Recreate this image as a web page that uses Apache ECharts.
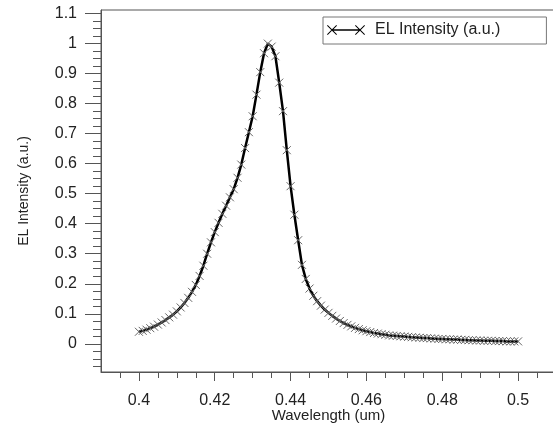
<!DOCTYPE html>
<html>
<head>
<meta charset="utf-8">
<script src="https://cdn.jsdelivr.net/npm/echarts@6/dist/echarts.min.js"></script>
<style>
html,body{margin:0;padding:0;background:#fff;}
#chart{width:553px;height:423px;}
</style>
</head>
<body>
<div id="chart"></div>
<script>
const seriesName = 'EL Intensity (a.u.)';
const xAxisName = 'Wavelength (um)';
const yAxisName = 'EL Intensity (a.u.)';

const wavelength = [
0.400,0.401,0.402,0.403,0.404,0.405,0.406,0.407,0.408,0.409,
0.410,0.411,0.412,0.413,0.414,0.415,0.416,0.417,0.418,0.419,
0.420,0.421,0.422,0.423,0.424,0.425,0.426,0.427,0.428,0.429,
0.430,0.431,0.432,0.433,0.434,0.435,0.436,0.437,0.438,0.439,
0.440,0.441,0.442,0.443,0.444,0.445,0.446,0.447,0.448,0.449,
0.450,0.451,0.452,0.453,0.454,0.455,0.456,0.457,0.458,0.459,
0.460,0.461,0.462,0.463,0.464,0.465,0.466,0.467,0.468,0.469,
0.470,0.471,0.472,0.473,0.474,0.475,0.476,0.477,0.478,0.479,
0.480,0.481,0.482,0.483,0.484,0.485,0.486,0.487,0.488,0.489,
0.490,0.491,0.492,0.493,0.494,0.495,0.496,0.497,0.498,0.499,
0.500];

const intensity = [
0.040,0.043,0.047,0.052,0.057,0.064,0.071,0.079,0.088,0.097,
0.108,0.121,0.136,0.153,0.173,0.196,0.226,0.260,0.300,0.338,
0.372,0.403,0.433,0.460,0.488,0.515,0.553,0.597,0.652,0.705,
0.758,0.830,0.905,0.968,1.000,0.990,0.958,0.870,0.775,0.645,
0.525,0.430,0.345,0.263,0.216,0.184,0.160,0.142,0.127,0.114,
0.103,0.093,0.084,0.076,0.069,0.063,0.058,0.053,0.049,0.045,
0.042,0.039,0.036,0.034,0.032,0.030,0.028,0.027,0.026,0.025,
0.024,0.023,0.022,0.021,0.020,0.019,0.019,0.018,0.017,0.016,
0.016,0.015,0.015,0.014,0.014,0.013,0.013,0.012,0.012,0.011,
0.011,0.010,0.010,0.010,0.009,0.009,0.009,0.008,0.008,0.008,
0.008];

const xMajorTicks = [0.4, 0.42, 0.44, 0.46, 0.48, 0.5];
const xMinorTicks = [0.395,0.4,0.405,0.41,0.415,0.42,0.425,0.43,0.435,0.44,0.445,0.45,0.455,0.46,0.465,0.47,0.475,0.48,0.485,0.49,0.495,0.5,0.505];
const yMajorTicks = [0, 0.1, 0.2, 0.3, 0.4, 0.5, 0.6, 0.7, 0.8, 0.9, 1, 1.1];
const yMinorTicks = [-0.075,-0.05,-0.025,0,0.025,0.05,0.075,0.1,0.125,0.15,0.175,0.2,0.225,0.25,0.275,0.3,0.325,0.35,0.375,0.4,0.425,0.45,0.475,0.5,0.525,0.55,0.575,0.6,0.625,0.65,0.675,0.7,0.725,0.75,0.775,0.8,0.825,0.85,0.875,0.9,0.925,0.95,0.975,1,1.025,1.05,1.075,1.1];

const xMin = 0.39, xMax = 0.51;
const yMin = -0.094, yMax = 1.112;

const pairs = wavelength.map((w, i) => [w, intensity[i]]);

const FONT = '"Liberation Sans", Arial, sans-serif';
const AX = '#555';
const TXT = '#222';

const legendIcon = 'path://M0,0.7L0.7,0L10,9.3L9.3,10Z M9.3,0L10,0.7L0.7,10L0,9.3Z M5,4.2L33,4.2L33,5.8L5,5.8Z M28,0.7L28.7,0L38,9.3L37.3,10Z M37.3,0L38,0.7L28.7,10L28,9.3Z M43,5L43,5.01L42.99,5Z';

const chart = echarts.init(document.getElementById('chart'), null, {renderer: 'canvas'});
chart.setOption({
  animation: false,
  backgroundColor: '#fff',
  textStyle: {fontFamily: FONT},
  grid: [
    {left: 101, top: 10, width: 455, height: 362, show: true, borderColor: AX, borderWidth: 1, backgroundColor: 'transparent', containLabel: false, outerBoundsMode: 'none'},
    {left: 101, top: 10, width: 455, height: 362, show: false, containLabel: false, outerBoundsMode: 'none'}
  ],
  legend: {
    left: 323, top: 17,
    padding: [5, 46, 6, 4],
    borderColor: '#777', borderWidth: 1, borderRadius: 0,
    backgroundColor: '#fff',
    itemWidth: 43, itemHeight: 10,
    textStyle: {fontSize: 16, color: TXT, fontFamily: FONT},
    data: [{name: seriesName, icon: legendIcon, itemStyle: {color: '#000', borderWidth: 0}}]
  },
  xAxis: [
    {
      gridIndex: 0, type: 'value', min: xMin, max: xMax,
      name: xAxisName, nameLocation: 'middle', nameGap: 36, nameMoveOverlap: false,
      nameTextStyle: {fontSize: 15, color: TXT, fontFamily: FONT},
      axisLine: {show: true, onZero: false, lineStyle: {color: AX, width: 1}},
      axisTick: {show: true, length: 9, customValues: xMajorTicks, lineStyle: {color: AX, width: 1}},
      axisLabel: {customValues: xMajorTicks, margin: 21, fontSize: 16, color: TXT, fontFamily: FONT},
      splitLine: {show: false}
    },
    {
      gridIndex: 1, type: 'value', min: xMin, max: xMax,
      axisLine: {show: false, onZero: false},
      axisTick: {show: true, length: 6, customValues: xMinorTicks, lineStyle: {color: AX, width: 1}},
      axisLabel: {show: false},
      splitLine: {show: false}
    }
  ],
  yAxis: [
    {
      gridIndex: 0, type: 'value', min: yMin, max: yMax,
      name: yAxisName, nameLocation: 'middle', nameGap: 70, nameMoveOverlap: false,
      nameTextStyle: {fontSize: 14, color: TXT, fontFamily: FONT},
      axisLine: {show: true, onZero: false, lineStyle: {color: AX, width: 1}},
      axisTick: {show: true, length: 16, customValues: yMajorTicks, lineStyle: {color: AX, width: 1}},
      axisLabel: {customValues: yMajorTicks, margin: 24, fontSize: 16, color: TXT, fontFamily: FONT},
      splitLine: {show: false}
    },
    {
      gridIndex: 1, type: 'value', min: yMin, max: yMax,
      axisLine: {show: false, onZero: false},
      axisTick: {show: true, length: 8, customValues: yMinorTicks, lineStyle: {color: AX, width: 1}},
      axisLabel: {show: false},
      splitLine: {show: false}
    }
  ],
  series: [{
    name: seriesName,
    type: 'line',
    xAxisIndex: 0, yAxisIndex: 0,
    data: pairs,
    symbol: 'path://M0,0L10,10M10,0L0,10',
    symbolSize: 8,
    showSymbol: true,
    lineStyle: {color: '#000', width: 2.5},
    itemStyle: {color: 'rgba(0,0,0,0)', borderColor: '#666', borderWidth: 1},
    emphasis: {disabled: true},
    z: 3
  }]
});
</script>
</body>
</html>
